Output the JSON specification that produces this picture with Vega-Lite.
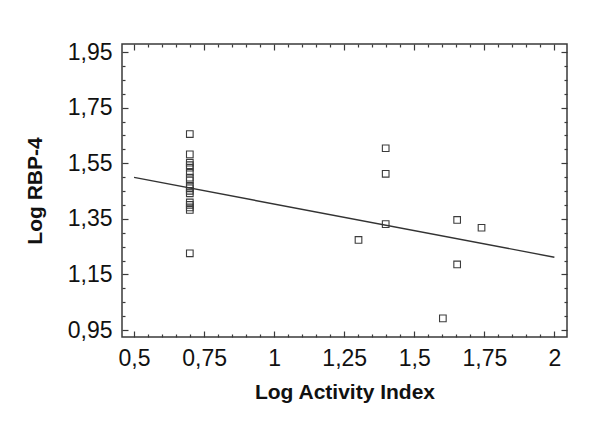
{
  "$schema": "https://vega.github.io/schema/vega-lite/v6.json",
  "width": 445,
  "height": 293,
  "autosize": {"type": "none"},
  "padding": {"left": 122, "top": 44, "right": 47, "bottom": 92},
  "background": "white",
  "config": {
    "view": {"stroke": "#3a3a3a", "strokeWidth": 1.5},
    "font": "Liberation Sans",
    "axis": {
      "domain": false,
      "grid": false,
      "tickColor": "#3a3a3a",
      "tickWidth": 1.2,
      "labelFont": "Liberation Sans",
      "labelFontSize": 23,
      "labelColor": "#111111",
      "labelOverlap": false,
      "labelFlush": false,
      "labelBound": false,
      "labelPadding": 16,
      "titleFont": "Liberation Sans",
      "titleFontSize": 21,
      "titleFontWeight": "bold",
      "titleColor": "#111111"
    }
  },
  "datasets": {
    "pts": [
      {"activity": 0.699, "rbp4": 1.655},
      {"activity": 0.699, "rbp4": 1.582},
      {"activity": 0.699, "rbp4": 1.552},
      {"activity": 0.699, "rbp4": 1.543},
      {"activity": 0.699, "rbp4": 1.534},
      {"activity": 0.699, "rbp4": 1.516},
      {"activity": 0.699, "rbp4": 1.498},
      {"activity": 0.699, "rbp4": 1.488},
      {"activity": 0.699, "rbp4": 1.469},
      {"activity": 0.699, "rbp4": 1.46},
      {"activity": 0.699, "rbp4": 1.451},
      {"activity": 0.699, "rbp4": 1.442},
      {"activity": 0.699, "rbp4": 1.409},
      {"activity": 0.699, "rbp4": 1.4},
      {"activity": 0.699, "rbp4": 1.391},
      {"activity": 0.699, "rbp4": 1.382},
      {"activity": 0.699, "rbp4": 1.226},
      {"activity": 1.301, "rbp4": 1.274},
      {"activity": 1.398, "rbp4": 1.604},
      {"activity": 1.398, "rbp4": 1.512},
      {"activity": 1.398, "rbp4": 1.331},
      {"activity": 1.602, "rbp4": 0.992},
      {"activity": 1.653, "rbp4": 1.346},
      {"activity": 1.653, "rbp4": 1.186},
      {"activity": 1.74, "rbp4": 1.318}
    ],
    "fit": [
      {"activity": 0.5, "rbp4": 1.499},
      {"activity": 2.0, "rbp4": 1.212}
    ]
  },
  "layer": [
    {
      "data": {"name": "pts"},
      "mark": {"type": "point", "shape": "square", "filled": false, "size": 44, "stroke": "#3c3c3c", "strokeWidth": 1.1, "opacity": 1},
      "encoding": {
        "x": {
          "field": "activity", "type": "quantitative",
          "scale": {"domain": [0.457, 2.045], "nice": false, "zero": false},
          "axis": {
            "orient": "bottom",
            "title": "Log Activity Index",
            "titlePadding": 8,
            "values": [0.5,0.55,0.6,0.65,0.7,0.75,0.8,0.85,0.9,0.95,1,1.05,1.1,1.15,1.2,1.25,1.3,1.35,1.4,1.45,1.5,1.55,1.6,1.65,1.7,1.75,1.8,1.85,1.9,1.95,2],
            "labelExpr": "abs(datum.value*4 - round(datum.value*4)) < 0.001 ? replace(format(datum.value, '~g'), '.', ',') : ''",
            "tickSize": {"condition": {"test": "abs(datum.value*4 - round(datum.value*4)) < 0.001", "value": -6}, "value": -3}
          }
        },
        "y": {
          "field": "rbp4", "type": "quantitative",
          "scale": {"domain": [0.925, 1.979], "nice": false, "zero": false},
          "axis": {
            "orient": "left",
            "title": "Log RBP-4",
            "titlePadding": 22,
            "values": [0.95,1,1.05,1.1,1.15,1.2,1.25,1.3,1.35,1.4,1.45,1.5,1.55,1.6,1.65,1.7,1.75,1.8,1.85,1.9,1.95],
            "labelExpr": "abs((datum.value-0.95)*5 - round((datum.value-0.95)*5)) < 0.001 ? replace(format(datum.value, '.2f'), '.', ',') : ''",
            "tickSize": {"condition": {"test": "abs((datum.value-0.95)*5 - round((datum.value-0.95)*5)) < 0.001", "value": -6}, "value": -3}
          }
        }
      }
    },
    {
      "data": {"name": "fit"},
      "mark": {"type": "line", "color": "#333333", "strokeWidth": 1.4},
      "encoding": {
        "x": {
          "field": "activity", "type": "quantitative",
          "axis": {
            "orient": "top",
            "title": null,
            "labels": false,
            "values": [0.5,0.55,0.6,0.65,0.7,0.75,0.8,0.85,0.9,0.95,1,1.05,1.1,1.15,1.2,1.25,1.3,1.35,1.4,1.45,1.5,1.55,1.6,1.65,1.7,1.75,1.8,1.85,1.9,1.95,2],
            "tickSize": {"condition": {"test": "abs(datum.value*4 - round(datum.value*4)) < 0.001", "value": -6}, "value": -3}
          }
        },
        "y": {
          "field": "rbp4", "type": "quantitative",
          "axis": {
            "orient": "right",
            "title": null,
            "labels": false,
            "values": [0.95,1,1.05,1.1,1.15,1.2,1.25,1.3,1.35,1.4,1.45,1.5,1.55,1.6,1.65,1.7,1.75,1.8,1.85,1.9,1.95],
            "tickSize": {"condition": {"test": "abs((datum.value-0.95)*5 - round((datum.value-0.95)*5)) < 0.001", "value": -6}, "value": -3}
          }
        }
      }
    }
  ],
  "resolve": {"axis": {"x": "independent", "y": "independent"}}
}
